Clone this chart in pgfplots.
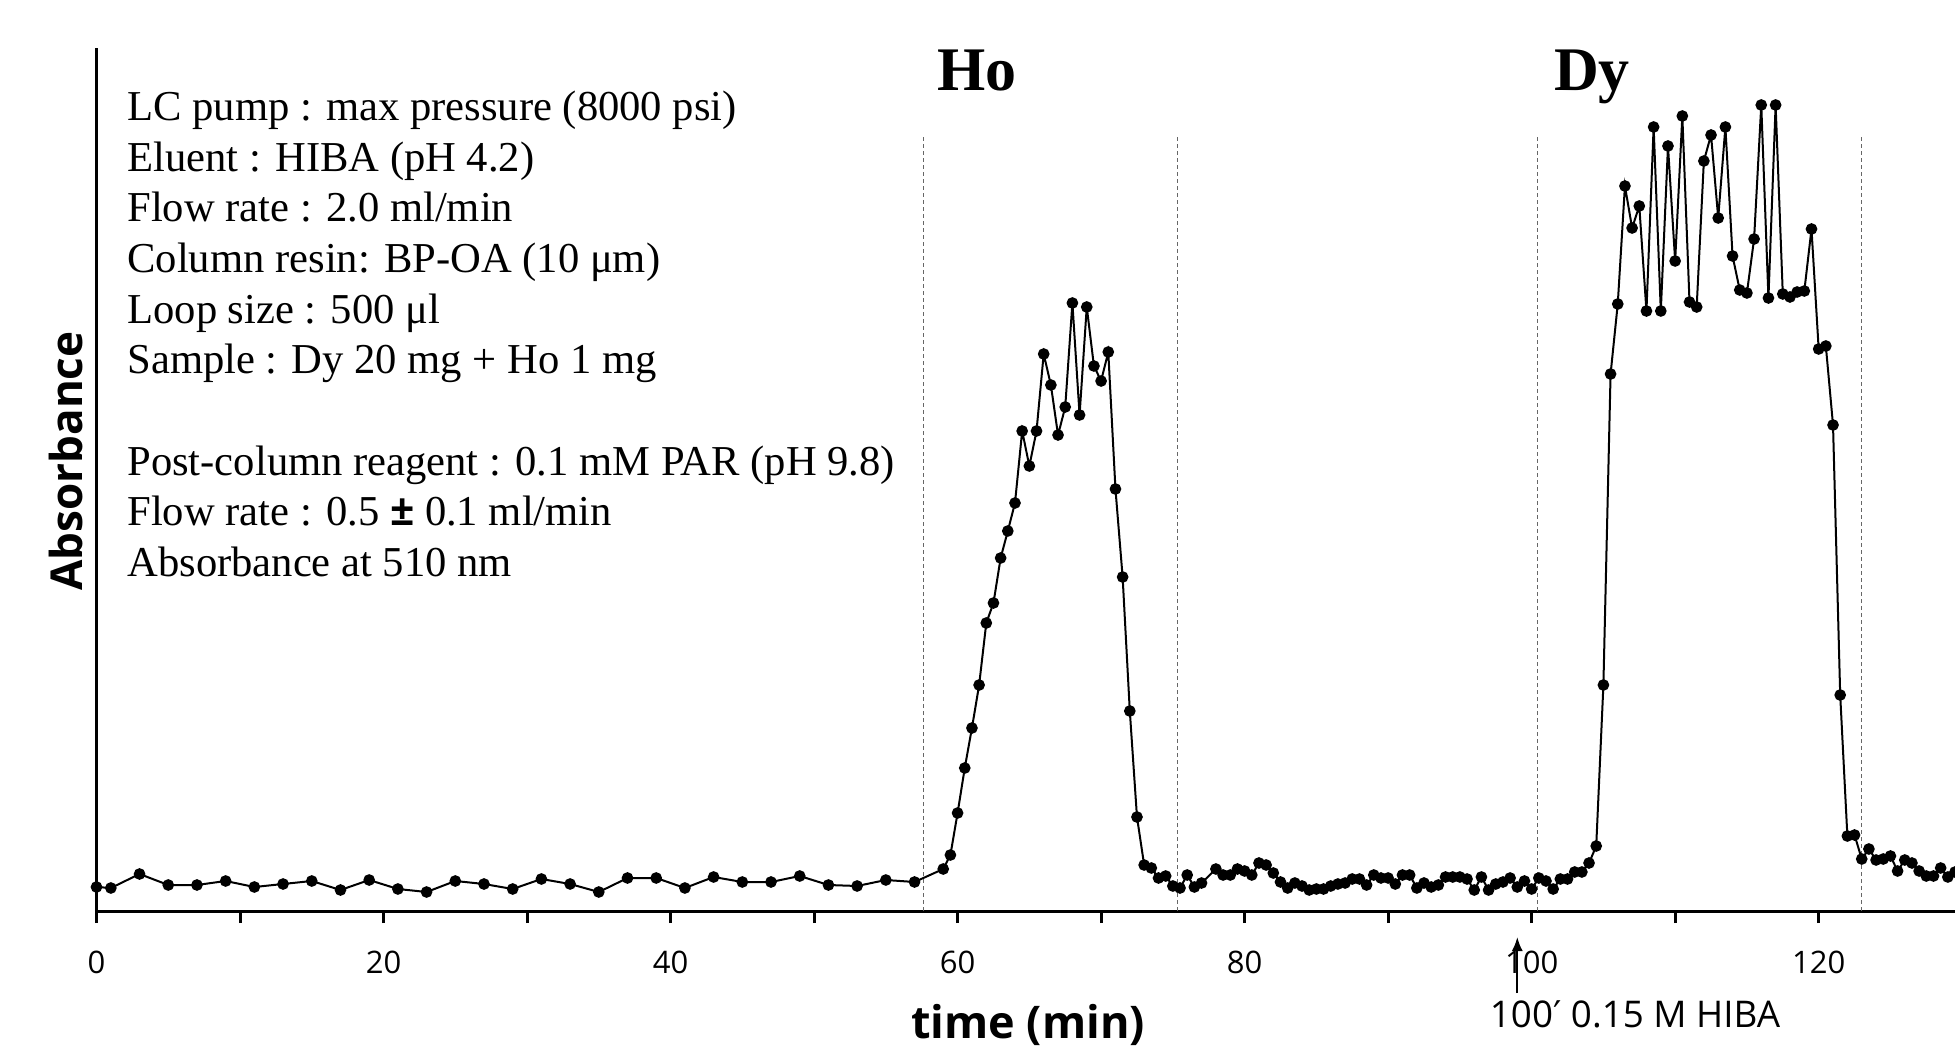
\documentclass[border=0pt]{standalone}
\usepackage{pgfplots}
\pgfplotsset{compat=1.18}
\usepackage{pgfplotstable}
\usepackage{fontspec}
\setmainfont{Liberation Serif}
\newfontfamily\osans{Open Sans}
\newfontfamily\djv{DejaVu Sans}
\usetikzlibrary{arrows.meta}

% absorbance trace, time in min, signal in arbitrary units
\pgfplotstableread{
t h
0 24
1 23
3 37
5 26
7 26
9 30
11 24
13 27
15 30
17 21
19 31
21 22
23 19
25 30
27 27
29 22
31 32
33 27
35 19
37 33
39 33
41 23
43 34
45 29
47 29
49 35
51 26
53 25
55 31
57 29
59 42
59.5 56
60 98
60.5 143
61 183
61.5 226
62 288
62.5 308
63 353
63.5 380
64 408
64.5 480
65 445
65.5 480
66 557
66.5 526
67 476
67.5 504
68 608
68.5 496
69 604
69.5 545
70 530
70.5 559
71 422
71.5 334
72 200
72.5 94
73 46
73.5 43
74 33
74.5 35
75 25
75.5 23
76 36
76.5 24
77 28
78 42
78.5 36
79 36
79.5 42
80 40
80.5 36
81 48
81.5 46
82 38
82.5 29
83 23
83.5 28
84 25
84.5 21
85 22
85.5 22
86 25
86.5 27
87 28
87.5 32
88 32
88.5 26
89 36
89.5 33
90 33
90.5 27
91 36
91.5 36
92 23
92.5 28
93 24
93.5 26
94 34
94.5 34
95 34
95.5 32
96 21
96.5 34
97 21
97.5 27
98 29
98.5 33
99 24
99.5 30
100 22
100.5 33
101 30
101.5 22
102 32
102.5 32
103 39
103.5 39
104 48
104.5 65
105 226
105.5 537
106 607
106.5 725
107 683
107.5 705
108 600
108.5 784
109 600
109.5 765
110 650
110.5 795
111 609
111.5 604
112 750
112.5 776
113 693
113.5 784
114 655
114.5 621
115 618
115.5 672
116 806
116.5 613
117 806
117.5 617
118 614
118.5 619
119 620
119.5 682
120 562
120.5 565
121 486
121.5 216
122 75
122.5 76
123 52
123.5 62
124 51
124.5 52
125 55
125.5 40
126 51
126.5 48
127 40
127.5 35
128 35
128.5 43
129 34
129.5 39
}\chromdata

\begin{document}
\begin{tikzpicture}[x=0.5pt,y=0.5pt]
\path[use as bounding box] (0,0) rectangle (1955,1051);
\begin{axis}[
  at={(48.25pt,70pt)}, anchor=south west,
  scale only axis, width=929.25pt, height=431.5pt,
  xmin=0, xmax=129.5, ymin=0, ymax=863,
  clip=false,
  axis x line=bottom, axis y line=left,
  axis line style={-},
  x axis line style={line width=1.5pt},
  y axis line style={line width=1.3pt},
  xtick={0,20,...,120},
  minor xtick={10,30,...,110},
  ytick=\empty,
  tick align=outside,
  major tick length=6pt, minor tick length=6pt,
  every tick/.style={black, line width=1.5pt},
  /pgf/number format/assume math mode=true,
  xticklabel style={font=\osans\fontsize{15.5pt}{18pt}\selectfont, anchor=base, yshift=-25pt},
  xlabel={time (min)},
  ylabel={Absorbance},
  xlabel style={font=\osans\bfseries\fontsize{22.5pt}{26pt}\selectfont,
    at={(axis description cs:0.5012,-0.1472)}, anchor=base, inner sep=0pt},
  ylabel style={font=\osans\bfseries\fontsize{22pt}{26pt}\selectfont,
    at={(axis description cs:-0.0073,0.5214)}, anchor=base, rotate=0, inner sep=0pt},
]
\foreach \xx in {57.6,75.3,100.4,123.0}{
  \edef\temp{\noexpand\draw[gray!80!black, line width=0.6pt, dash pattern=on 2pt off 1.5pt]
    (axis cs:\xx,0) -- (axis cs:\xx,774);}
  \temp
}
\addplot[black, line width=1pt, mark=*, mark size=2.4pt, mark options={fill=black}] table[x=t,y=h] {\chromdata};
\draw[line width=1pt, -{Latex[length=7pt,width=5.5pt]}] (axis cs:99,-82) -- (axis cs:99,-26);
\node[anchor=base, inner sep=0pt, font=\osans\fontsize{18.4pt}{21pt}\selectfont]
  at (axis cs:107.2,-116) {100{\djv ′} 0.15 M HIBA};
\end{axis}

\begin{scope}[every node/.style={anchor=base west, inner sep=0pt, font=\fontsize{21.3pt}{25.4pt}\selectfont}]
\node at (127,930) {LC pump : max pressure (8000 psi)};
\node at (127,879) {Eluent : HIBA (pH 4.2)};
\node at (127,829) {Flow rate : 2.0 ml/min};
\node at (127,778) {Column resin: BP-OA (10 μm)};
\node at (127,727) {Loop size : 500 μl};
\node at (127,677) {Sample : Dy 20 mg + Ho 1 mg};
\node at (127,575) {Post-column reagent : 0.1 mM PAR (pH 9.8)};
\node at (127,525) {Flow rate : 0.5 {\osans\bfseries ±} 0.1 ml/min};
\node at (127,474) {Absorbance at 510 nm};
\end{scope}
\node[anchor=base, inner sep=0pt, font=\bfseries\fontsize{31pt}{36pt}\selectfont] at (977,960) {Ho};
\node[anchor=base, inner sep=0pt, font=\bfseries\fontsize{31pt}{36pt}\selectfont] at (1592,960) {Dy};
\end{tikzpicture}
\end{document}
